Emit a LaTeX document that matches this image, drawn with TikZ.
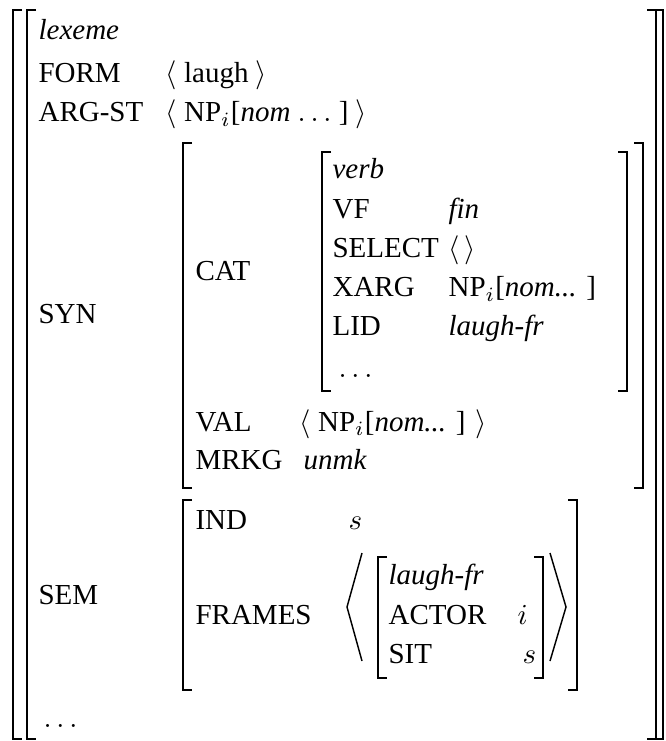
\documentclass[tikz,border=0pt]{standalone}
\usepackage{fontspec}
\setmainfont{Liberation Serif}
\begin{document}
\begin{tikzpicture}[
        x=0.3448pt, y=-0.3448pt,
        every node/.style={inner sep=0pt, anchor=base west},
        feat/.style={},
        val/.style={},
        brk/.style={draw, line width=0.7pt},
        angle/.style={draw, line width=0.5pt}
    ]
        \useasboundingbox (0,0) rectangle (665,741);

        % outer matrix
        \node [val] (type) at (38,40) {\textit{lexeme}};
        \node [feat] (form) at (38,83) {FORM};
        \node [val] (formval) at (165,83) {$\langle$ laugh $\rangle$};
        \node [feat] (argst) at (38,122) {ARG-ST};
        \node [val] (argstval) at (165,122) {$\langle$ NP$_i$[\textit{nom} $\ldots$ ] $\rangle$};
        \node [feat] (syn) at (38,324) {SYN};
        \node [feat] (sem) at (38,604) {SEM};
        \node [val] (rest) at (43,727) {$\ldots$};

        % SYN value
        \node [feat] (cat) at (195,281) {CAT};
        \node [val] (verb) at (332,179) {\textit{verb}};
        \node [feat] (vf) at (332,219) {VF};
        \node [val] (vfval) at (448,219) {\textit{fin}};
        \node [feat] (select) at (332,258) {SELECT};
        \node [val] (selectval) at (448,258) {$\langle\,\rangle$};
        \node [feat] (xarg) at (332,297) {XARG};
        \node [val] (xargval) at (448,297) {NP$_i$[\textit{nom...} ]};
        \node [feat] (lid) at (332,336) {LID};
        \node [val] (lidval) at (448,336) {\textit{laugh-fr}};
        \node [val] (catrest) at (338,377) {$\ldots$};
        \node [feat] (valf) at (195,431) {VAL};
        \node [val] (valval) at (299,431) {$\langle$ NP$_i$[\textit{nom...} ] $\rangle$};
        \node [feat] (mrkg) at (195,469) {MRKG};
        \node [val] (mrkgval) at (303,469) {\textit{unmk}};

        % SEM value
        \node [feat] (ind) at (195,529) {IND};
        \node [val] (indval) at (348,529) {$s$};
        \node [feat] (frames) at (195,624) {FRAMES};
        \node [val] (frame) at (388,584) {\textit{laugh-fr}};
        \node [feat] (actor) at (388,624) {ACTOR};
        \node [val] (actorval) at (517,624) {$i$};
        \node [feat] (sit) at (388,663) {SIT};
        \node [val] (sitval) at (522,663) {$s$};

        % brackets
        \draw [brk] (22,10) -| (13,739) -- (22,739);
        \draw [brk] (36,10) -| (27,739) -- (36,739);
        \draw [brk] (647,10) -| (656,739) -- (647,739);
        \draw [brk] (654,10) -| (663,739) -- (654,739);
        \draw [brk] (192,143) -| (183,488) -- (192,488);
        \draw [brk] (634,143) -| (643,488) -- (634,488);
        \draw [brk] (331,152) -| (322,391) -- (331,391);
        \draw [brk] (618,152) -| (627,391) -- (618,391);
        \draw [brk] (192,500) -| (183,690) -- (192,690);
        \draw [brk] (568,500) -| (577,690) -- (568,690);
        \draw [brk] (387,557) -| (378,678) -- (387,678);
        \draw [brk] (534,557) -| (543,678) -- (534,678);

        % list around the frame
        \draw [angle] (362,553) -- (347,607) -- (362,661);
        \draw [angle] (550,553) -- (566,607) -- (550,661);
    \end{tikzpicture}
\end{document}
